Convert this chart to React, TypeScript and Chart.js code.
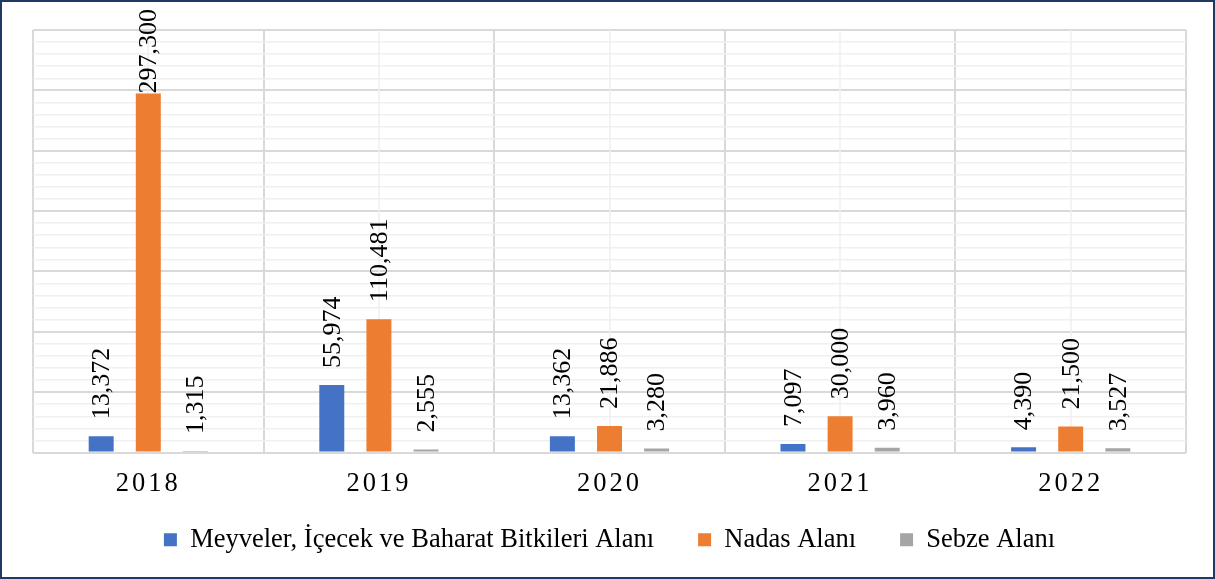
import React, { useEffect, useRef } from "react";
import { Chart, registerables } from "chart.js";

Chart.register(...registerables);

const categories = ["2018", "2019", "2020", "2021", "2022"];
const seriesNames = [
  "Meyveler, İçecek ve Baharat Bitkileri Alanı",
  "Nadas Alanı",
  "Sebze Alanı",
];
const meyveler = [13372, 55974, 13362, 7097, 4390];
const nadas = [297300, 110481, 21886, 30000, 21500];
const sebze = [1315, 2555, 3280, 3960, 3527];
const seriesColors = ["#4472C4", "#ED7D31", "#A5A5A5"];

const SERIF = "'Liberation Serif', 'Times New Roman', serif";

const labelPlugin = {
  id: "barLabels",
  afterDatasetsDraw(chart: any) {
    const ctx = chart.ctx;
    ctx.save();
    ctx.font = `26px ${SERIF}`;
    ctx.fillStyle = "#000";
    ctx.textAlign = "left";
    ctx.textBaseline = "middle";
    chart.data.datasets.forEach((ds: any, di: number) => {
      const meta = chart.getDatasetMeta(di);
      meta.data.forEach((el: any, i: number) => {
        const text = Number(ds.data[i]).toLocaleString("en-US");
        const w = ctx.measureText(text).width;
        let bottom = el.y - 17;
        if (bottom - w < 9) bottom = 9 + w;
        ctx.save();
        ctx.translate(el.x + 1, bottom);
        ctx.rotate(-Math.PI / 2);
        ctx.fillText(text, 0, 0);
        ctx.restore();
      });
    });
    ctx.restore();
  },
};

const minorVerticalPlugin = {
  id: "minorVertical",
  beforeDatasetsDraw(chart: any) {
    const ctx = chart.ctx;
    const x = chart.scales.x;
    const area = chart.chartArea;
    ctx.save();
    ctx.strokeStyle = "#efefef";
    ctx.lineWidth = 1.5;
    categories.forEach((_, i) => {
      const px = Math.round(x.getPixelForValue(i));
      ctx.beginPath();
      ctx.moveTo(px, area.top);
      ctx.lineTo(px, area.bottom);
      ctx.stroke();
    });
    ctx.restore();
  },
};

const framePlugin = {
  id: "frame",
  beforeDraw(chart: any) {
    const s = chart.scales.x;
    if (s && !s.__patched) {
      const orig = s.drawLabels.bind(s);
      s._computeLabelArea = () => undefined;
      s.drawLabels = (area: any) => {
        chart.ctx.save();
        (chart.ctx as any).letterSpacing = "3px";
        orig(area);
        chart.ctx.restore();
      };
      s.__patched = true;
    }
    const ctx = chart.ctx;
    ctx.save();
    ctx.fillStyle = "#fff";
    ctx.fillRect(0, 0, chart.width, chart.height);
    ctx.restore();
  },
  afterDraw(chart: any) {
    const ctx = chart.ctx;
    ctx.save();
    ctx.strokeStyle = "#203864";
    ctx.lineWidth = 2;
    ctx.strokeRect(1, 1, chart.width - 2, chart.height - 2);
    ctx.restore();
  },
};

export default function App() {
  const ref = useRef<HTMLCanvasElement>(null);
  useEffect(() => {
    if (!ref.current) return;
    const chart = new Chart(ref.current, {
      type: "bar",
      data: {
        labels: categories,
        datasets: [meyveler, nadas, sebze].map((d, i) => ({
          label: seriesNames[i],
          data: d,
          backgroundColor: seriesColors[i],
          categoryPercentage: 0.613,
          barPercentage: 0.53,
        })),
      },
      options: {
        responsive: false,
        animation: false,
        layout: { padding: { left: 33, right: 29, top: 30, bottom: 16 } },
        plugins: {
          legend: {
            position: "bottom",
            labels: {
              font: { family: SERIF, size: 26.5 },
              color: "#000",
              boxWidth: 13,
              boxHeight: 13,
              padding: 44,
            },
          },
          tooltip: { enabled: false },
        },
        scales: {
          x: {
            grid: {
              offset: true,
              color: "#d9d9d9",
              lineWidth: 2,
              drawTicks: false,
            },
            border: { display: false },
            ticks: {
              font: { family: SERIF, size: 26.5 },
              color: "#000",
              padding: 16,
            },
            afterFit: (s: any) => {
              s.height = 30;
            },
          },
          y: {
            min: 0,
            max: 350000,
            grid: {
              color: (c: any) =>
                c.tick && c.tick.value % 50000 === 0 ? "#d9d9d9" : "#f0f0f0",
              lineWidth: (c: any) =>
                c.tick && c.tick.value % 50000 === 0 ? 2 : 1.5,
              drawTicks: false,
            },
            border: { display: false },
            ticks: { display: false, stepSize: 10000 },
            afterFit: (s: any) => {
              s.width = 0;
            },
          },
        },
      },
      plugins: [framePlugin, minorVerticalPlugin, labelPlugin],
    });
    return () => chart.destroy();
  }, []);
  return (
    <div style={{ position: "fixed", left: 0, top: 0, width: 1215, height: 579 }}>
      <canvas ref={ref} width={1215} height={579} />
    </div>
  );
}
